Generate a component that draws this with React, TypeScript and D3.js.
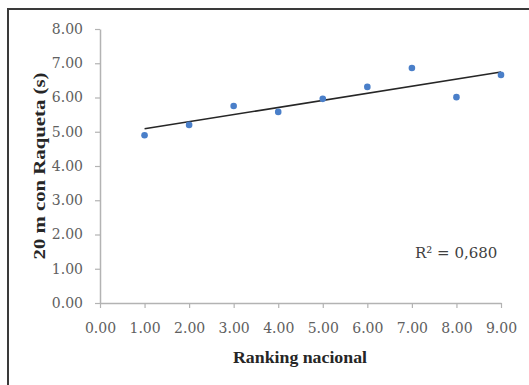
import { useEffect, useRef } from 'react';
import * as d3 from 'd3';

// Ranking nacional vs 20 m con raqueta (s)
const ranking = [1, 2, 3, 4, 5, 6, 7, 8, 9];
const tiempos = [4.9, 5.2, 5.75, 5.58, 5.96, 6.31, 6.86, 6.01, 6.66];
const xTicks = [0, 1, 2, 3, 4, 5, 6, 7, 8, 9];
const yTicks = [0, 1, 2, 3, 4, 5, 6, 7, 8];
const r2Label = '0,680';

export default function App() {
  const svgRef = useRef<SVGSVGElement>(null);

  useEffect(() => {
    const W = 529;
    const H = 385;
    const margin = { top: 29, right: 28, bottom: 82, left: 100 };
    const width = W - margin.left - margin.right;
    const height = H - margin.top - margin.bottom;

    const root = d3.select(svgRef.current);
    root.selectAll('*').remove();
    root.attr('width', W).attr('height', H);

    root.append('rect')
      .attr('x', 0).attr('y', 0).attr('width', W).attr('height', H)
      .attr('fill', '#ffffff');

    // outer frame
    root.append('rect')
      .attr('x', 8).attr('y', 9).attr('width', W + 20).attr('height', H + 20)
      .attr('fill', 'none')
      .attr('stroke', '#3a3a3a')
      .attr('stroke-width', 2);

    const svg = root.append('g')
      .attr('transform', `translate(${margin.left},${margin.top})`);

    const x = d3.scaleLinear().domain([0, 9]).range([0, width]);
    const y = d3.scaleLinear().domain([0, 8]).range([height, 0]);

    const font = '"DejaVu Serif", serif';

    // X axis
    const gx = svg.append('g')
      .attr('transform', `translate(0,${height})`)
      .call(d3.axisBottom(x).tickValues(xTicks).tickFormat(d3.format('.2f')).tickSize(5).tickSizeOuter(0).tickPadding(15));
    gx.select('.domain').attr('stroke', '#b3b3b3').attr('stroke-width', 1.5);
    gx.selectAll('line').attr('stroke', '#b3b3b3').attr('stroke-width', 1.2);
    gx.selectAll('text')
      .attr('fill', '#606060')
      .style('font-family', font)
      .style('font-size', '14px');

    // Y axis
    const gy = svg.append('g')
      .call(d3.axisLeft(y).tickValues(yTicks).tickFormat(d3.format('.2f')).tickSize(5).tickSizeOuter(0).tickPadding(12));
    gy.select('.domain').attr('stroke', '#b3b3b3').attr('stroke-width', 1.5);
    gy.selectAll('line').attr('stroke', '#b3b3b3').attr('stroke-width', 1.2);
    gy.selectAll('text')
      .attr('fill', '#606060')
      .style('font-family', font)
      .style('font-size', '14px');

    // Linear trend line
    const n = ranking.length;
    const mx = d3.mean(ranking) as number;
    const my = d3.mean(tiempos) as number;
    let sxy = 0;
    let sxx = 0;
    ranking.forEach((v, i) => {
      sxy += (v - mx) * (tiempos[i] - my);
      sxx += (v - mx) * (v - mx);
    });
    const slope = sxy / sxx;
    const icpt = my - slope * mx;
    const x0 = ranking[0];
    const x1 = ranking[n - 1];
    svg.append('line')
      .attr('x1', x(x0)).attr('y1', y(icpt + slope * x0))
      .attr('x2', x(x1)).attr('y2', y(icpt + slope * x1))
      .attr('stroke', '#262626')
      .attr('stroke-width', 1.6);

    // Points
    svg.selectAll('circle.pt')
      .data(ranking)
      .join('circle')
      .attr('class', 'pt')
      .attr('cx', d => x(d))
      .attr('cy', (d, i) => y(tiempos[i]))
      .attr('r', 3.3)
      .attr('fill', '#4a7fc9');

    // R² label
    svg.append('text')
      .attr('x', 315)
      .attr('y', 229)
      .attr('fill', '#404040')
      .style('font-family', font)
      .style('font-size', '15px')
      .text(`R² = ${r2Label}`);

    // Axis titles
    root.append('text')
      .attr('x', 300)
      .attr('y', 363)
      .attr('text-anchor', 'middle')
      .attr('fill', '#262626')
      .attr('textLength', 134)
      .attr('lengthAdjust', 'spacingAndGlyphs')
      .style('font-family', '"Liberation Serif", serif')
      .style('font-weight', 'bold')
      .style('font-size', '17px')
      .text('Ranking nacional');

    root.append('text')
      .attr('transform', 'translate(45,166) rotate(-90)')
      .attr('text-anchor', 'middle')
      .attr('fill', '#262626')
      .attr('textLength', 187)
      .attr('lengthAdjust', 'spacingAndGlyphs')
      .style('font-family', '"Liberation Serif", serif')
      .style('font-weight', 'bold')
      .style('font-size', '17px')
      .text('20 m con Raqueta (s)');
  }, []);

  return (
    <div style={{ position: 'absolute', left: 0, top: 0 }}>
      <svg ref={svgRef}></svg>
    </div>
  );
}
